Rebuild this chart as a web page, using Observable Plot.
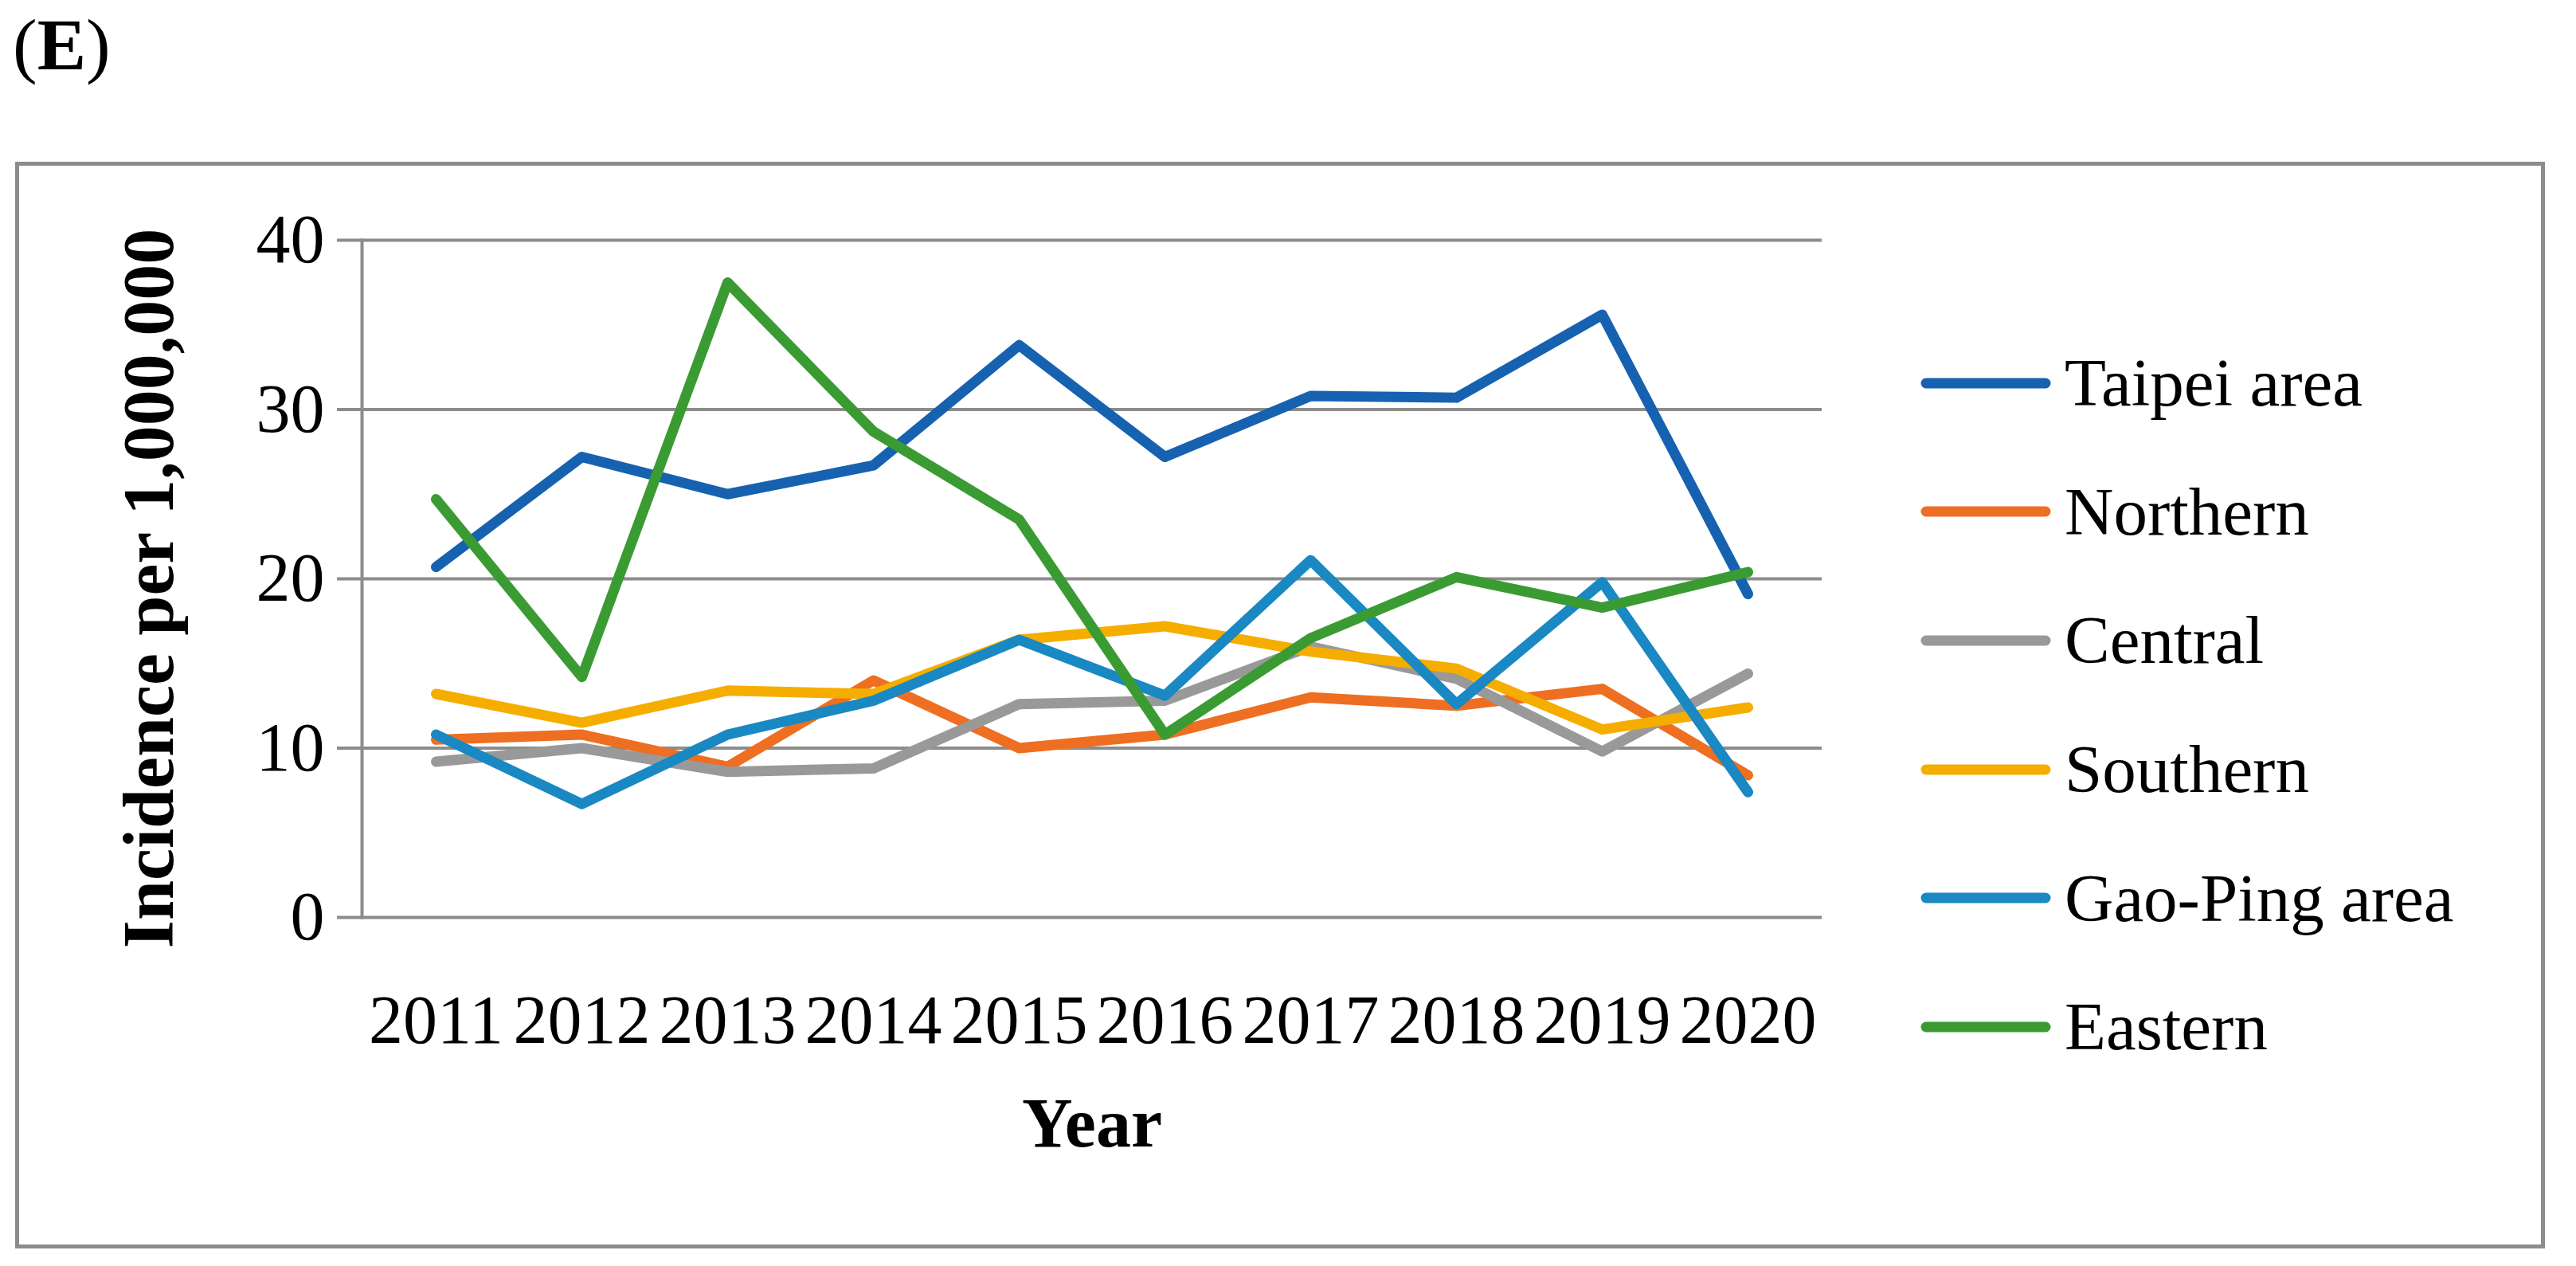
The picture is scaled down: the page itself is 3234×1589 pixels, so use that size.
<!DOCTYPE html>
<html>
<head>
<meta charset="utf-8">
<script src="https://cdn.jsdelivr.net/npm/d3@7"></script>
<script src="https://cdn.jsdelivr.net/npm/@observablehq/plot@0.6"></script>
<style>
  html, body { margin: 0; padding: 0; background: #ffffff; }
  #wrap { position: relative; width: 3234px; height: 1589px; font-family: "Liberation Serif", "Times New Roman", serif; color: #000; }
  #frame { position: absolute; left: 19px; top: 203px; width: 3176px; height: 1364px; border: 5px solid #8c8c8c; box-sizing: border-box; }
  #tag { position: absolute; left: 16px; top: 10px; font-size: 92px; line-height: 1; }
  #tag b { font-weight: bold; }
  #chart { position: absolute; left: 0; top: 0; }
  #legend { position: absolute; left: 2411px; top: 400px; }
  .row { display: flex; align-items: center; height: 161.6px; }
  .row svg { display: block; margin-right: 17px; }
  .row span { font-size: 85px; line-height: 1; white-space: nowrap; }
</style>
</head>
<body>
<div id="wrap">
  <div id="frame"></div>
  <div id="tag">(<b>E</b>)</div>
  <div id="chart"></div>
  <div id="legend"></div>
</div>
<script>
// ---- data ----
const years = [2011, 2012, 2013, 2014, 2015, 2016, 2017, 2018, 2019, 2020];
const seriesNames = ["Taipei area", "Northern", "Central", "Southern", "Gao-Ping area", "Eastern"];
const seriesColors = ["#1662b0", "#ee6e22", "#999999", "#f5ad00", "#1a88c2", "#3b9b33"];
const taipei   = [20.7, 27.2, 25.0, 26.7, 33.8, 27.2, 30.8, 30.7, 35.6, 19.1];
const northern = [10.5, 10.8, 8.9, 14.0, 10.0, 10.8, 13.0, 12.5, 13.5, 8.4];
const central  = [9.2, 10.0, 8.6, 8.8, 12.6, 12.8, 16.0, 14.1, 9.8, 14.4];
const southern = [13.2, 11.5, 13.4, 13.2, 16.4, 17.2, 15.7, 14.7, 11.1, 12.4];
const gaoping  = [10.8, 6.7, 10.8, 12.8, 16.4, 13.1, 21.1, 12.6, 19.8, 7.4];
const eastern  = [24.7, 14.2, 37.5, 28.7, 23.5, 10.8, 16.5, 20.1, 18.3, 20.4];
const yTicks = [0, 10, 20, 30, 40];
const yTitle = "Incidence per 1,000,000";
const xTitle = "Year";

const seriesValues = [taipei, northern, central, southern, gaoping, eastern];
const table = [];
seriesNames.forEach((name, i) => {
  years.forEach((yr, j) => table.push({series: name, year: yr, value: seriesValues[i][j]}));
});

const W = 3234, H = 1589;
const gridColor = "#8c8c8c";
const fontFamily = "Liberation Serif, Times New Roman, serif";

const chart = Plot.plot({
  width: W,
  height: H,
  marginLeft: 454,
  marginRight: W - 2287,
  marginTop: 301,
  marginBottom: H - 1151,
  style: {fontFamily, background: "transparent", color: "#000", overflow: "visible"},
  x: {type: "point", domain: years, padding: 0.5},
  y: {domain: [0, 40]},
  color: {domain: seriesNames, range: seriesColors},
  marks: [
    Plot.gridY(yTicks, {stroke: gridColor, strokeOpacity: 1, strokeWidth: 4}),
    Plot.axisY(yTicks, {tickSize: 31, tickPadding: 16, stroke: gridColor, strokeOpacity: 1, strokeWidth: 4,
      fontSize: 86, fill: "#000", label: null, tickFormat: d => String(d)}),
    Plot.frame({anchor: "left", stroke: gridColor, strokeOpacity: 1, strokeWidth: 4}),
    Plot.axisX({tickSize: 0, tickPadding: 96, fontSize: 86, fill: "#000", label: null, tickFormat: d => String(d)}),
    Plot.lineY(table, {x: "year", y: "value", z: "series", stroke: "series", strokeWidth: 13,
      strokeLinejoin: "round", strokeLinecap: "round"}),
    Plot.text([yTitle], {frameAnchor: "left", textAnchor: "middle", rotate: -90, dx: -266, dy: 12,
      fontSize: 90, fontWeight: "bold", fill: "#000"}),
    Plot.text([xTitle], {frameAnchor: "bottom", dy: 287, fontSize: 88, fontWeight: "bold", fill: "#000"})
  ]
});
document.getElementById("chart").appendChild(chart);

// legend
const legend = document.getElementById("legend");
seriesNames.forEach((name, i) => {
  const row = document.createElement("div");
  row.className = "row";
  row.innerHTML = `<svg width="164" height="20"><line x1="7" y1="10" x2="157" y2="10" stroke="${seriesColors[i]}" stroke-width="13" stroke-linecap="round"/></svg><span>${name}</span>`;
  legend.appendChild(row);
});
</script>
</body>
</html>
